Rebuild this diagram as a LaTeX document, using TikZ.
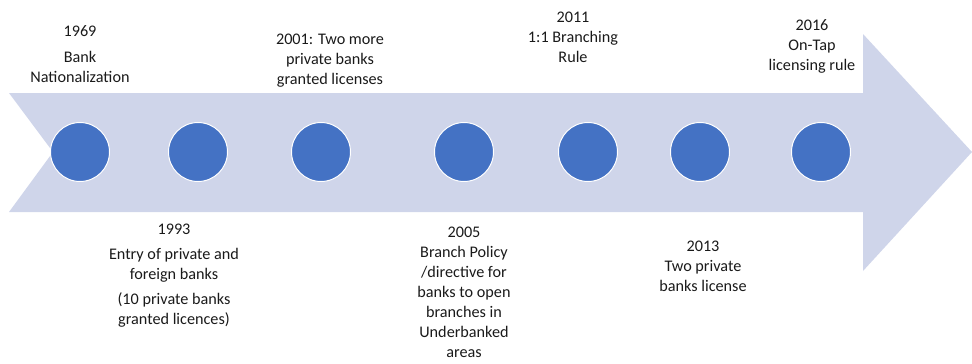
\documentclass[tikz,border=0pt]{standalone}
\usepackage{fontspec}
\setmainfont{Carlito}
\definecolor{arrowfill}{HTML}{CFD5EA}
\definecolor{dotblue}{HTML}{4472C4}
\definecolor{txt}{HTML}{1A1A1A}
\begin{document}
\begin{tikzpicture}[x=1pt,y=-1pt,
  dot/.style={circle,fill=dotblue,draw=white,line width=1pt,minimum size=59pt,inner sep=0pt},
  lbl/.style={anchor=north,align=center,inner sep=0pt,text=txt,font=\fontsize{16.2}{20}\selectfont}]
\path[use as bounding box] (0,0) rectangle (972,364);
% arrow
\fill[arrowfill] (9,93) -- (863,93) -- (863,34) -- (972,152) -- (863,271) -- (863,212) -- (9,212) -- (53,152) -- cycle;
% dots
\node[dot] (d1) at (80,152) {};
\node[dot] (d2) at (198,152) {};
\node[dot] (d3) at (321,152) {};
\node[dot] (d4) at (464,152) {};
\node[dot] (d5) at (588,152) {};
\node[dot] (d6) at (700,152) {};
\node[dot] (d7) at (821,152) {};
% labels above
\node[lbl] (t1969) at (80,25) {1969\\[6.5pt]Bank\\Nationalization};
\node[lbl] (t2001) at (330,34) {2001: Two more\\private banks\\granted licenses};
\node[lbl] (t2011) at (573,12) {2011\\1:1 Branching\\Rule};
\node[lbl] (t2016) at (812,19.5) {2016\\On-Tap\\licensing rule};
% labels below
\node[lbl] (t1993) at (174,224) {1993\\[5pt]Entry of private and\\foreign banks\\[5pt](10 private banks\\granted licences)};
\node[lbl] (t2005) at (464,227) {2005\\Branch Policy\\/directive for\\banks to open\\branches in\\Underbanked\\areas};
\node[lbl] (t2013) at (703,240.5) {2013\\Two private\\banks license};
\end{tikzpicture}
\end{document}
